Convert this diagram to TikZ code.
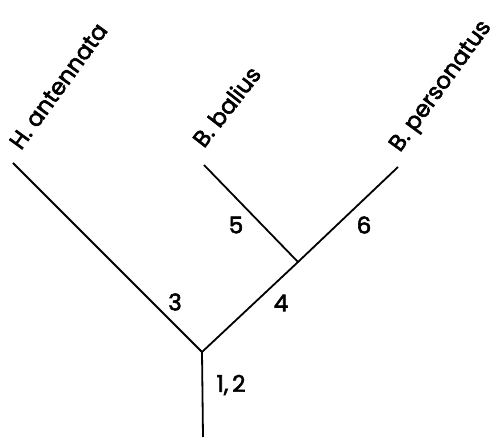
\documentclass[tikz,border=0pt]{standalone}
\usepackage{fontspec}
\setmainfont{Poppins}[FakeBold=2.5]
\begin{document}
\begin{tikzpicture}[x=1pt,y=-1pt,
  branch/.style={line width=1.8pt},
  taxon/.style={rotate=54,anchor=base west,inner sep=0pt,font=\fontsize{23}{23}\selectfont},
  num/.style={inner sep=0pt,font=\fontsize{23}{23}\selectfont}]
\useasboundingbox (0,0) rectangle (503,438);
\coordinate (root) at (203,437);
\coordinate (J) at (202,352);
\coordinate (K) at (298,262);
\coordinate (Ha) at (13,163);
\coordinate (Bb) at (204,165);
\coordinate (Bp) at (398,167);
\draw[branch] (root) -- (J);
\draw[branch] (Ha) -- (J) -- (K) -- (Bp);
\draw[branch] (Bb) -- (K);
\node[taxon] (tHa) at (21,151) {H. antennata};
\node[taxon,rotate=-2] (tBb) at (204,149) {B. balius};
\node[taxon] (tBp) at (400,153) {B. personatus};
\node[num] (n3) at (175,302) {3};
\node[num] (n4) at (281,303) {4};
\node[num] (n5) at (236,225) {5};
\node[num] (n6) at (364,225) {6};
\node[num] (n12) at (231,385) {1,\,2};
\end{tikzpicture}
\end{document}
